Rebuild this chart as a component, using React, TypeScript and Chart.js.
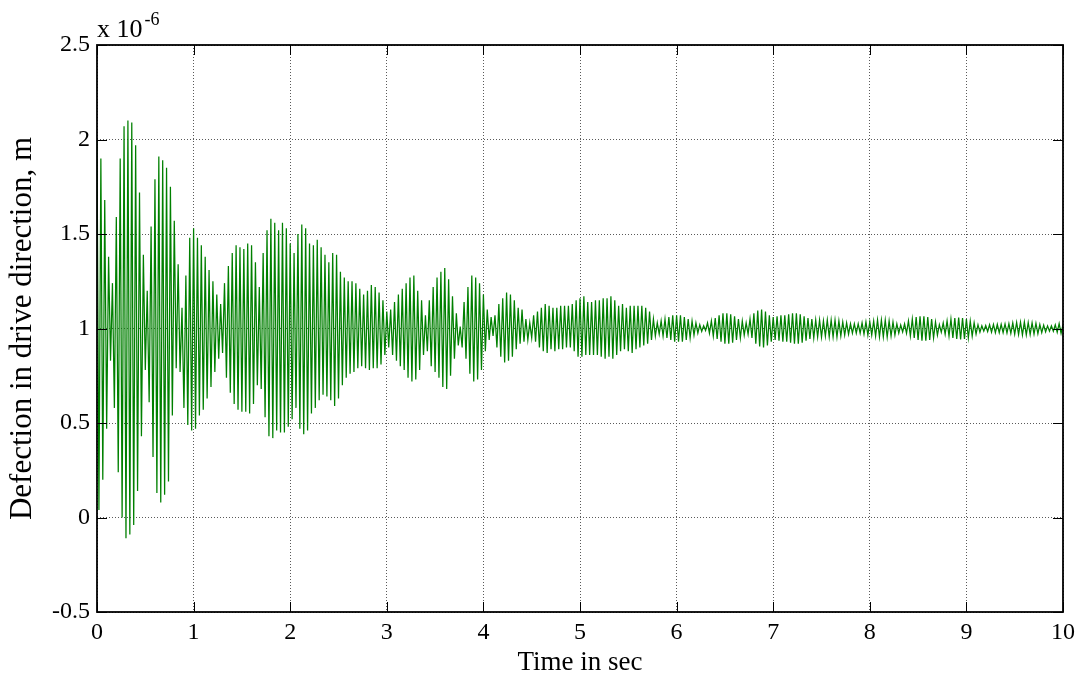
import { useEffect, useRef } from "react";
import { Chart, registerables } from "chart.js";

Chart.register(...registerables);

// Deflection of the drive axis, in units of 1e-6 m.
// Successive crests are one oscillation period apart; each trough sits half a period after its crest.
const PERIOD_S = 0.04;
const EXPONENT_LABEL = "x 10";
const EXPONENT_POWER = "-6";

const TIME_TICKS = [0, 1, 2, 3, 4, 5, 6, 7, 8, 9, 10];
const DEFLECTION_TICKS = [-0.5, 0, 0.5, 1, 1.5, 2, 2.5];

const crests = [
  // 0 – 1 s
  2.0, 1.9, 1.68, 1.38, 1.24, 1.59, 1.9, 2.07, 2.1, 2.09, 1.97, 1.72, 1.39, 1.2, 1.54, 1.79, 1.91, 1.89, 1.85, 1.75, 1.57, 1.34, 1.11, 1.28, 1.48,
  // 1 – 2 s
  1.53, 1.48, 1.44, 1.38, 1.31, 1.25, 1.18, 1.13, 1.24, 1.33, 1.4, 1.44, 1.43, 1.42, 1.45, 1.44, 1.35, 1.22, 1.4, 1.52, 1.58, 1.56, 1.52, 1.56, 1.53,
  // 2 – 3 s
  1.45, 1.4, 1.5, 1.55, 1.53, 1.45, 1.44, 1.47, 1.43, 1.39, 1.35, 1.4, 1.39, 1.3, 1.27, 1.25, 1.25, 1.24, 1.21, 1.18, 1.2, 1.23, 1.22, 1.19, 1.15,
  // 3 – 4 s
  1.09, 1.1, 1.14, 1.18, 1.21, 1.24, 1.27, 1.28, 1.2, 1.15, 1.07, 1.15, 1.22, 1.27, 1.3, 1.32, 1.26, 1.17, 1.08, 1.01, 1.14, 1.22, 1.28, 1.27, 1.24,
  // 4 – 5 s
  1.18, 1.1, 1.06, 1.07, 1.13, 1.16, 1.19, 1.18, 1.15, 1.11, 1.1, 1.05, 1.03, 1.07, 1.09, 1.11, 1.13, 1.12, 1.11, 1.11, 1.12, 1.12, 1.12, 1.13, 1.15,
  // 5 – 6 s
  1.16, 1.17, 1.14, 1.14, 1.15, 1.15, 1.16, 1.16, 1.17, 1.15, 1.12, 1.13, 1.11, 1.12, 1.12, 1.12, 1.12, 1.11, 1.09, 1.05, 1.03, 1.04, 1.05, 1.06, 1.07,
  // 6 – 7 s
  1.07, 1.07, 1.06, 1.05, 1.04, 1.03, 1.02, 1.015, 1.03, 1.04, 1.055, 1.07, 1.08, 1.08, 1.075, 1.065, 1.05, 1.04, 1.03, 1.05, 1.08, 1.095, 1.1, 1.09, 1.07,
  // 7 – 8 s
  1.06, 1.065, 1.07, 1.07, 1.075, 1.08, 1.08, 1.075, 1.065, 1.055, 1.05, 1.045, 1.045, 1.04, 1.045, 1.045, 1.045, 1.04, 1.035, 1.03, 1.025, 1.025, 1.025, 1.03, 1.035,
  // 8 – 9 s
  1.035, 1.04, 1.045, 1.045, 1.045, 1.04, 1.035, 1.025, 1.018, 1.025, 1.04, 1.05, 1.06, 1.065, 1.065, 1.06, 1.05, 1.035, 1.02, 1.03, 1.04, 1.05, 1.055, 1.058, 1.055,
  // 9 – 10 s
  1.05, 1.04, 1.03, 1.02, 1.014, 1.016, 1.02, 1.022, 1.022, 1.022, 1.024, 1.026, 1.03, 1.032, 1.034, 1.034, 1.032, 1.03, 1.028, 1.022, 1.018, 1.014, 1.014, 1.02, 1.026,
  1.02,
];

const troughs = [
  // 0 – 1 s
  0.04, 0.2, 0.47, 0.83, 0.58, 0.24, 0.0, -0.11, -0.09, -0.04, 0.14, 0.43, 0.78, 0.61, 0.32, 0.13, 0.08, 0.12, 0.19, 0.54, 0.79, 0.77, 0.58, 0.49, 0.46,
  // 1 – 2 s
  0.47, 0.54, 0.57, 0.63, 0.69, 0.77, 0.84, 0.87, 0.74, 0.66, 0.6, 0.57, 0.56, 0.56, 0.55, 0.6, 0.7, 0.68, 0.53, 0.43, 0.42, 0.46, 0.45, 0.45, 0.48,
  // 2 – 3 s
  0.52, 0.58, 0.47, 0.44, 0.46, 0.55, 0.58, 0.62, 0.65, 0.64, 0.62, 0.59, 0.63, 0.7, 0.74, 0.76, 0.77, 0.79, 0.8, 0.79, 0.78, 0.79, 0.79, 0.81, 0.86,
  // 3 – 4 s
  0.9, 0.86, 0.83, 0.8, 0.78, 0.74, 0.72, 0.73, 0.78, 0.86, 0.88, 0.8, 0.77, 0.74, 0.69, 0.68, 0.75, 0.84, 0.91, 0.9, 0.84, 0.76, 0.72, 0.73, 0.78,
  // 4 – 5 s
  0.88, 0.94, 0.96, 0.9, 0.85, 0.82, 0.83, 0.85, 0.89, 0.92, 0.93, 0.94, 0.95, 0.93, 0.9, 0.88, 0.87, 0.89, 0.88, 0.89, 0.89, 0.9, 0.9, 0.88, 0.85,
  // 5 – 6 s
  0.85, 0.86, 0.86, 0.86, 0.86, 0.85, 0.84, 0.85, 0.84, 0.86, 0.88, 0.89, 0.88, 0.87, 0.89, 0.9, 0.91, 0.92, 0.94, 0.96, 0.97, 0.96, 0.95, 0.94, 0.93,
  // 6 – 7 s
  0.93, 0.93, 0.94, 0.95, 0.965, 0.975, 0.985, 0.99, 0.975, 0.96, 0.945, 0.93, 0.92, 0.92, 0.925, 0.94, 0.95, 0.965, 0.97, 0.95, 0.92, 0.905, 0.9, 0.91, 0.93,
  // 7 – 8 s
  0.94, 0.935, 0.93, 0.93, 0.925, 0.92, 0.92, 0.925, 0.935, 0.945, 0.95, 0.955, 0.955, 0.96, 0.955, 0.955, 0.955, 0.96, 0.965, 0.97, 0.975, 0.975, 0.975, 0.97, 0.965,
  // 8 – 9 s
  0.965, 0.96, 0.955, 0.955, 0.955, 0.96, 0.965, 0.975, 0.982, 0.975, 0.96, 0.95, 0.94, 0.935, 0.935, 0.94, 0.95, 0.965, 0.98, 0.97, 0.96, 0.95, 0.945, 0.942, 0.945,
  // 9 – 10 s
  0.95, 0.96, 0.97, 0.98, 0.986, 0.984, 0.98, 0.978, 0.978, 0.978, 0.976, 0.974, 0.97, 0.968, 0.966, 0.966, 0.968, 0.97, 0.972, 0.978, 0.982, 0.986, 0.986, 0.98, 0.974,
];

const SERIF = '"Liberation Serif", "Times New Roman", Times, serif';
const LINE_GREEN = "#008000";
const GRID_GREY = "#5a5a5a";

function buildTrace() {
  const pts: { x: number; y: number }[] = [];
  for (let k = 0; k < crests.length; k++) {
    pts.push({ x: k * PERIOD_S, y: crests[k] });
    if (k < troughs.length) pts.push({ x: k * PERIOD_S + PERIOD_S / 2, y: troughs[k] });
  }
  return pts;
}

// Axes box, inward tick marks on all four sides and the exponent note above the y axis.
const axesFrame = {
  id: "axesFrame",
  afterDatasetsDraw(chart: any) {
    const { ctx, chartArea: a, scales } = chart;
    const len = 10;
    ctx.save();
    ctx.strokeStyle = "#000";
    ctx.lineWidth = 1;
    ctx.beginPath();
    for (const v of TIME_TICKS) {
      const px = Math.round(scales.x.getPixelForValue(v)) + 0.5;
      ctx.moveTo(px, a.bottom);
      ctx.lineTo(px, a.bottom - len);
      ctx.moveTo(px, a.top);
      ctx.lineTo(px, a.top + len);
    }
    for (const v of DEFLECTION_TICKS) {
      const py = Math.round(scales.y.getPixelForValue(v)) + 0.5;
      ctx.moveTo(a.left, py);
      ctx.lineTo(a.left + len, py);
      ctx.moveTo(a.right, py);
      ctx.lineTo(a.right - len, py);
    }
    ctx.stroke();
    ctx.lineWidth = 1.8;
    ctx.strokeRect(a.left, a.top, a.right - a.left, a.bottom - a.top);

    ctx.fillStyle = "#000";
    ctx.textAlign = "left";
    ctx.textBaseline = "alphabetic";
    ctx.font = `26px ${SERIF}`;
    ctx.fillText(EXPONENT_LABEL, a.left, a.top - 8);
    const w = ctx.measureText(EXPONENT_LABEL).width;
    ctx.font = `18px ${SERIF}`;
    ctx.fillText(EXPONENT_POWER, a.left + w + 2, a.top - 20);
    ctx.restore();
  },
};

export default function App() {
  const canvasRef = useRef<HTMLCanvasElement | null>(null);

  useEffect(() => {
    const canvas = canvasRef.current;
    if (!canvas) return;
    const tickFont = { family: SERIF, size: 24 };
    const chart = new Chart(canvas, {
      type: "line",
      data: {
        datasets: [
          {
            data: buildTrace(),
            borderColor: LINE_GREEN,
            borderWidth: 1.25,
            pointRadius: 0,
            tension: 0,
            fill: false,
          },
        ],
      },
      options: {
        responsive: false,
        animation: false,
        events: [],
        layout: { padding: { top: 45, right: 21, left: 0, bottom: 0 } },
        plugins: { legend: { display: false }, tooltip: { enabled: false } },
        scales: {
          x: {
            type: "linear",
            min: 0,
            max: 10,
            afterFit: (s: any) => {
              s.height = 68;
            },
            afterBuildTicks: (s: any) => {
              s.ticks = TIME_TICKS.map((v) => ({ value: v }));
            },
            ticks: {
              font: tickFont,
              color: "#000",
              padding: 6,
              maxRotation: 0,
              autoSkip: false,
              callback: (v: any) => String(v),
            },
            grid: { color: GRID_GREY, lineWidth: 1, drawTicks: false },
            border: { display: false, dash: [1, 2] },
            title: {
              display: true,
              text: "Time in sec",
              font: { family: SERIF, size: 27 },
              color: "#000",
              padding: { top: 0, bottom: 1 },
            },
          },
          y: {
            type: "linear",
            min: -0.5,
            max: 2.5,
            afterFit: (s: any) => {
              s.width = 97;
            },
            afterBuildTicks: (s: any) => {
              s.ticks = DEFLECTION_TICKS.map((v) => ({ value: v }));
            },
            ticks: {
              font: tickFont,
              color: "#000",
              padding: 7,
              autoSkip: false,
              callback: (v: any) => String(v),
            },
            grid: { color: GRID_GREY, lineWidth: 1, drawTicks: false },
            border: { display: false, dash: [1, 2] },
            title: {
              display: true,
              text: "Defection in drive direction, m",
              font: { family: SERIF, size: 31 },
              color: "#000",
              padding: { top: 4, bottom: 0 },
            },
          },
        },
      },
      plugins: [axesFrame],
    });
    return () => chart.destroy();
  }, []);

  return (
    <div style={{ position: "absolute", left: 0, top: 0, width: 1084, height: 680, background: "#fff" }}>
      <canvas ref={canvasRef} width={1084} height={680} />
    </div>
  );
}
